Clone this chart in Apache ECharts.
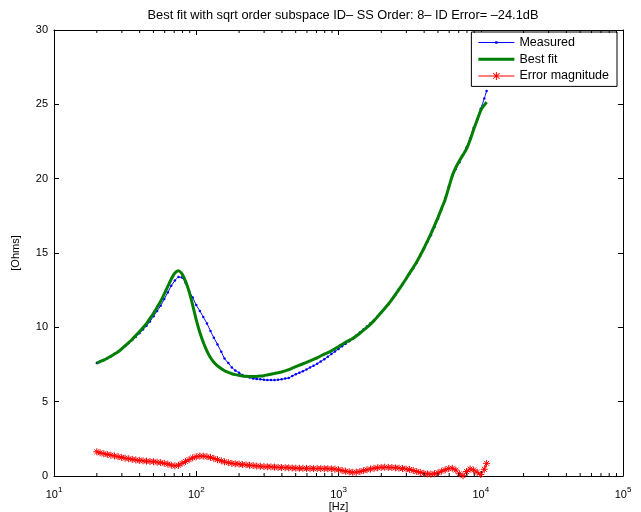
<!DOCTYPE html>
<html>
<head>
<meta charset="utf-8">
<script src="https://cdn.jsdelivr.net/npm/echarts@6/dist/echarts.min.js"></script>
<style>html,body{margin:0;padding:0;background:#fff;}#c{width:641px;height:512px;}</style>
</head>
<body>
<div id="c"></div>
<script>
// Frequencies [Hz]
var freqs = [20.0, 21.1, 22.4, 23.7, 25.1, 26.6, 28.2, 29.9, 31.6, 33.5, 35.5, 37.6, 39.8, 42.2, 44.7, 47.3,
  50.1, 53.1, 56.2, 59.6, 63.1, 66.8, 70.8, 75.0, 79.4, 84.1, 89.1, 94.4,
  100, 106, 112, 119, 126, 133, 141, 150, 158, 168, 178, 188, 200, 211, 224, 237, 251, 266, 282, 299,
  316, 335, 355, 376, 398, 422, 447, 473, 501, 531, 562, 596, 631, 668, 708, 750, 794, 841, 891, 944,
  1000, 1059, 1122, 1189, 1259, 1334, 1413, 1496, 1585, 1679, 1778, 1884, 1995, 2113, 2239, 2371,
  2512, 2661, 2818, 2985, 3162, 3350, 3548, 3758, 3981, 4217, 4467, 4732, 5012, 5309, 5623, 5957,
  6310, 6683, 7079, 7499, 7943, 8414, 8913, 9441, 10000, 10593, 11000];
// Measured impedance [Ohms]
var measured = [7.6, 7.7, 7.8, 7.92, 8.05, 8.2, 8.35, 8.55, 8.75, 8.95, 9.15, 9.37, 9.6, 9.85, 10.1, 10.4,
  10.75, 11.1, 11.45, 11.9, 12.35, 12.8, 13.15, 13.38, 13.35, 13.0, 12.45, 12.0,
  11.5, 11.1, 10.7, 10.25, 9.75, 9.3, 8.85, 8.35, 7.9, 7.6, 7.3, 7.1, 6.95, 6.8, 6.7, 6.62, 6.55, 6.52, 6.5, 6.47,
  6.45, 6.45, 6.45, 6.47, 6.5, 6.55, 6.6, 6.72, 6.85, 6.95, 7.05, 7.17, 7.3, 7.42, 7.55, 7.7, 7.85, 8.02, 8.2, 8.37,
  8.55, 8.72, 8.9, 9.07, 9.25, 9.45, 9.65, 9.85, 10.05, 10.27, 10.5, 10.75, 11.0, 11.27, 11.55, 11.87,
  12.2, 12.55, 12.9, 13.25, 13.6, 13.97, 14.35, 14.8, 15.3, 15.75, 16.2, 16.75, 17.3, 18.0, 18.7, 19.45,
  20.2, 20.65, 21.1, 21.6, 22.1, 22.7, 23.4, 24.0, 24.7, 25.4, 25.9];
// Best fit [Ohms]
var bestFit = [7.6, 7.7, 7.8, 7.92, 8.05, 8.2, 8.35, 8.55, 8.75, 8.97, 9.2, 9.45, 9.7, 9.97, 10.25, 10.6,
  10.95, 11.35, 11.75, 12.25, 12.75, 13.25, 13.65, 13.8, 13.6, 13.1, 12.4, 11.5,
  10.5, 9.65, 9.0, 8.4, 7.95, 7.65, 7.4, 7.22, 7.08, 6.97, 6.88, 6.82, 6.77, 6.73, 6.71, 6.7, 6.7, 6.7, 6.72, 6.75,
  6.8, 6.85, 6.9, 6.95, 7.0, 7.07, 7.15, 7.25, 7.35, 7.45, 7.55, 7.65, 7.75, 7.85, 7.95, 8.07, 8.2, 8.3, 8.42, 8.56,
  8.7, 8.85, 9.0, 9.12, 9.25, 9.42, 9.6, 9.8, 10.0, 10.22, 10.45, 10.72, 11.0, 11.27, 11.55, 11.87,
  12.2, 12.55, 12.9, 13.27, 13.65, 14.02, 14.4, 14.85, 15.3, 15.8, 16.3, 16.85, 17.4, 18.0, 18.6, 19.4,
  20.2, 20.75, 21.2, 21.6, 22.0, 22.6, 23.3, 23.95, 24.6, 24.95, 25.15];
// Error magnitude [Ohms]
var errorMag = [1.63, 1.56, 1.5, 1.45, 1.4, 1.35, 1.3, 1.25, 1.2, 1.16, 1.12, 1.08, 1.05, 1.02, 1.0, 0.98,
  0.96, 0.93, 0.9, 0.85, 0.8, 0.73, 0.68, 0.72, 0.85, 0.98, 1.1, 1.22,
  1.3, 1.34, 1.34, 1.3, 1.25, 1.18, 1.1, 1.02, 0.95, 0.9, 0.85, 0.82, 0.8, 0.77, 0.75, 0.72, 0.7, 0.67, 0.65, 0.63,
  0.62, 0.61, 0.6, 0.58, 0.57, 0.56, 0.55, 0.54, 0.53, 0.52, 0.52, 0.51, 0.5, 0.5, 0.5, 0.5, 0.49, 0.49, 0.48, 0.46,
  0.42, 0.37, 0.32, 0.28, 0.25, 0.26, 0.3, 0.36, 0.42, 0.47, 0.52, 0.55, 0.58, 0.59, 0.58, 0.57,
  0.55, 0.53, 0.5, 0.47, 0.44, 0.37, 0.3, 0.24, 0.18, 0.14, 0.12, 0.15, 0.22, 0.32, 0.42, 0.5,
  0.52, 0.4, 0.15, 0.02, 0.3, 0.47, 0.4, 0.25, 0.1, 0.45, 0.85];
// Minor tick positions on the log axis
var minorTicks = [20, 30, 40, 50, 60, 70, 80, 90, 200, 300, 400, 500, 600, 700, 800, 900,
  2000, 3000, 4000, 5000, 6000, 7000, 8000, 9000, 20000, 30000, 40000, 50000, 60000, 70000, 80000, 90000];

function pairs(v) { return freqs.map(function (f, i) { return [f, v[i]]; }); }

var FONT = 'Liberation Sans, Arial, Helvetica, sans-serif';
var starPath = 'path://M5 0L5 10M0 5L10 5M1.5 1.5L8.5 8.5M8.5 1.5L1.5 8.5';
// legend icons (filled shapes: line + marker)
var iconMeasured = 'path://M0 6.5h36v1h-36Z M16.8 5.8h2.4v2.4h-2.4Z';
var iconFit = 'path://M0 5.5h36v3h-36Z';
var iconErr = 'path://M0 6.5h36v1h-36Z M17.5 3h1v8h-1Z M14.4 4.5L15 3.9L21.6 9.5L21 10.1Z M21 3.9L21.6 4.5L15 10.1L14.4 9.5Z';

var chart = echarts.init(document.getElementById('c'), null, {renderer: 'canvas'});
var xCommon = {
  type: 'log', logBase: 10, min: 10, max: 100000,
  axisLine: {show: true, onZero: false, lineStyle: {color: '#000', width: 1}},
  axisTick: {show: true, inside: true, length: 5, lineStyle: {color: '#000'}},
  splitLine: {show: false}, minorTick: {show: false}
};
var yCommon = {
  type: 'value', min: 0, max: 30, interval: 5,
  axisLine: {show: true, onZero: false, lineStyle: {color: '#000', width: 1}},
  axisTick: {show: true, inside: true, length: 5, lineStyle: {color: '#000'}},
  splitLine: {show: false}
};
chart.setOption({
  animation: false,
  backgroundColor: '#fff',
  textStyle: {fontFamily: FONT},
  title: {
    text: 'Best fit with sqrt order subspace ID\u2013 SS Order: 8\u2013 ID Error= \u201324.1dB',
    left: 338, top: 4, textAlign: 'center',
    textStyle: {fontSize: 12.8, fontWeight: 'normal', color: '#000', fontFamily: FONT}
  },
  grid: {left: 54, right: 18, top: 30, bottom: 36, containLabel: false, outerBoundsMode: 'none'},
  legend: {
    data: [
      {name: 'Measured', icon: iconMeasured, itemStyle: {borderWidth: 0}},
      {name: 'Best fit', icon: iconFit, itemStyle: {borderWidth: 0}},
      {name: 'Error magnitude', icon: iconErr, itemStyle: {borderWidth: 0}}
    ],
    orient: 'vertical', right: 24, top: 32,
    backgroundColor: '#fff', borderColor: '#000', borderWidth: 1, borderRadius: 0,
    padding: [4, 8, 4, 7], itemGap: 3.7, itemWidth: 36, itemHeight: 13,
    textStyle: {fontSize: 12.5, color: '#000', fontFamily: FONT}
  },
  xAxis: [
    Object.assign({}, xCommon, {
      position: 'bottom',
      name: '[Hz]', nameLocation: 'middle', nameGap: 25, nameMoveOverlap: false,
      nameTextStyle: {fontSize: 11, color: '#000', fontFamily: FONT},
      axisLabel: {
        show: true, margin: 10, color: '#000',
        formatter: function (v) { return '{b|10}{s|' + Math.round(Math.log10(v)) + '}'; },
        rich: {
          b: {fontSize: 11, color: '#000', fontFamily: FONT},
          s: {fontSize: 8, color: '#000', fontFamily: FONT, verticalAlign: 'bottom', padding: [0, 0, 9, 0]}
        }
      }
    }),
    Object.assign({}, xCommon, {position: 'top', axisLabel: {show: false}})
  ],
  yAxis: [
    Object.assign({}, yCommon, {
      position: 'left',
      name: '[Ohms]', nameLocation: 'middle', nameGap: 33, nameRotate: 90, nameMoveOverlap: false,
      nameTextStyle: {fontSize: 11, color: '#000', fontFamily: FONT},
      axisLabel: {show: true, margin: 6, fontSize: 11, color: '#000', fontFamily: FONT}
    }),
    Object.assign({}, yCommon, {position: 'right', axisLabel: {show: false}})
  ],
  series: [
    {
      name: 'Measured', type: 'line', data: pairs(measured), smooth: 0.2,
      symbol: 'circle', symbolSize: 2.5, showAllSymbol: true,
      lineStyle: {color: '#0000ff', width: 1}, itemStyle: {color: '#0000ff'},
      z: 2
    },
    {
      name: 'Best fit', type: 'line', data: pairs(bestFit), smooth: 0.2,
      symbol: 'none', showSymbol: false,
      lineStyle: {color: '#007f00', width: 3}, itemStyle: {color: '#007f00'},
      z: 3
    },
    {
      name: 'Error magnitude', type: 'line', data: pairs(errorMag), smooth: 0.2,
      symbol: starPath, symbolSize: 7, showAllSymbol: true,
      lineStyle: {color: '#ff0000', width: 1},
      itemStyle: {color: '#ff0000', borderColor: '#ff0000', borderWidth: 1},
      z: 4
    },
    {
      name: 'minor', type: 'custom', silent: true, z: 5,
      data: minorTicks.map(function (t) { return [t, 0]; }),
      renderItem: function (params, api) {
        var v = api.value(0);
        var b = api.coord([v, 0]);
        var t = api.coord([v, 30]);
        return {
          type: 'group',
          children: [
            {type: 'line', shape: {x1: b[0], y1: b[1], x2: b[0], y2: b[1] - 3}, style: {stroke: '#000', lineWidth: 1}},
            {type: 'line', shape: {x1: t[0], y1: t[1], x2: t[0], y2: t[1] + 3}, style: {stroke: '#000', lineWidth: 1}}
          ]
        };
      }
    }
  ]
});
</script>
</body>
</html>
